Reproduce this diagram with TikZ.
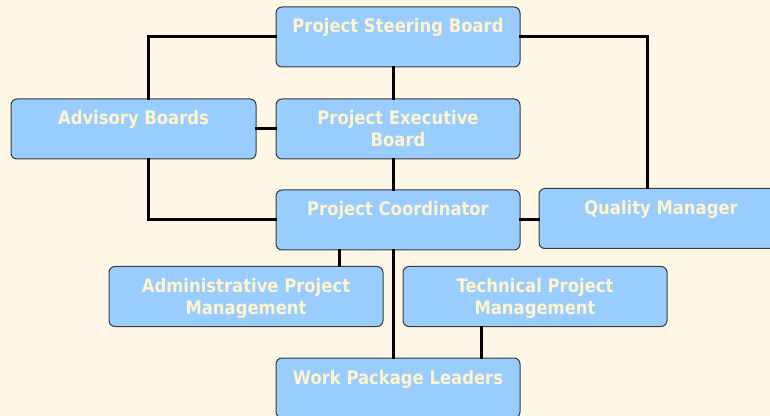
\documentclass[tikz,border=0pt]{standalone}
\usepackage{fontspec}
\usepackage{xcolor}
\setmainfont{DejaVu Sans}[FakeStretch=0.88]

\definecolor{pagebg}{HTML}{FFF7E6}
\definecolor{boxfill}{HTML}{99CCFF}
\definecolor{boxline}{HTML}{3A3A3A}
\definecolor{boxtext}{HTML}{FFF5CC}

\newcommand{\boxtxt}[2]{\parbox[c][45pt][t]{#1}{\centering\rule{0pt}{19.5pt}#2}}

\begin{document}
\begin{tikzpicture}[x=0.75pt,y=0.75pt,yscale=-1,xscale=1,
    orgbox/.style={draw=boxline, fill=boxfill, line width=0.75pt, rounded corners=4.5pt,
        inner sep=0pt, text=boxtext, font=\fontsize{14}{16.5}\selectfont\bfseries},
    link/.style={line width=2.25pt, line cap=rect}]
    %set diagram area: 770 x 416
    \useasboundingbox[fill=pagebg] (0,0) rectangle (770,416);

    %Shape: Rounded Rect [Steering]
    \node[orgbox] (psb) at (398,37) {\boxtxt{183pt}{Project Steering Board}};
    %Shape: Rounded Rect [Advisory]
    \node[orgbox] (adv) at (133.5,129) {\boxtxt{183.75pt}{Advisory Boards}};
    %Shape: Rounded Rect [Executive]
    \node[orgbox] (peb) at (398,129) {\boxtxt{183pt}{Project Executive\\Board}};
    %Shape: Rounded Rect [Coordinator]
    \node[orgbox] (pco) at (398,220) {\boxtxt{183pt}{Project Coordinator}};
    %Shape: Rounded Rect [Quality]
    \node[orgbox] (qman) at (661,218.5) {\boxtxt{183pt}{Quality Manager}};
    %Shape: Rounded Rect [Administrative]
    \node[orgbox] (apm) at (246,296.5) {\boxtxt{205.5pt}{Administrative Project\\Management}};
    %Shape: Rounded Rect [Technical]
    \node[orgbox] (tpm) at (535,296.5) {\boxtxt{198pt}{Technical Project\\Management}};
    %Shape: Rounded Rect [Work packages]
    \node[orgbox] (wpl) at (398,388) {\boxtxt{183pt}{Work Package Leaders}};

    %Straight Lines
    \draw[link] (psb.west) -| ([xshift=10.875pt]adv.north);
    \draw[link] (psb.east) -| ([xshift=-10.5pt]qman.north);
    \draw[link] ([xshift=-3.75pt]psb.south) -- ([xshift=-3.75pt]peb.north);
    \draw[link] (adv.east) -- (peb.west);
    \draw[link] ([xshift=-3.75pt]peb.south) -- ([xshift=-3.75pt]pco.north);
    \draw[link] ([xshift=10.875pt]adv.south) |- (pco.west);
    \draw[link] (pco.east) -- (pco.east -| qman.west);
    \draw[link] (pco.south -| apm.north) ++(69.75pt,0) coordinate (apmtop) -- (apmtop |- apm.north);
    \draw[link] ([xshift=-3.75pt]pco.south) -- ([xshift=-3.75pt]wpl.north);
    \draw[link] ([xshift=-40.5pt]tpm.south) -- ([xshift=-40.5pt]tpm.south |- wpl.north);
\end{tikzpicture}
\end{document}
